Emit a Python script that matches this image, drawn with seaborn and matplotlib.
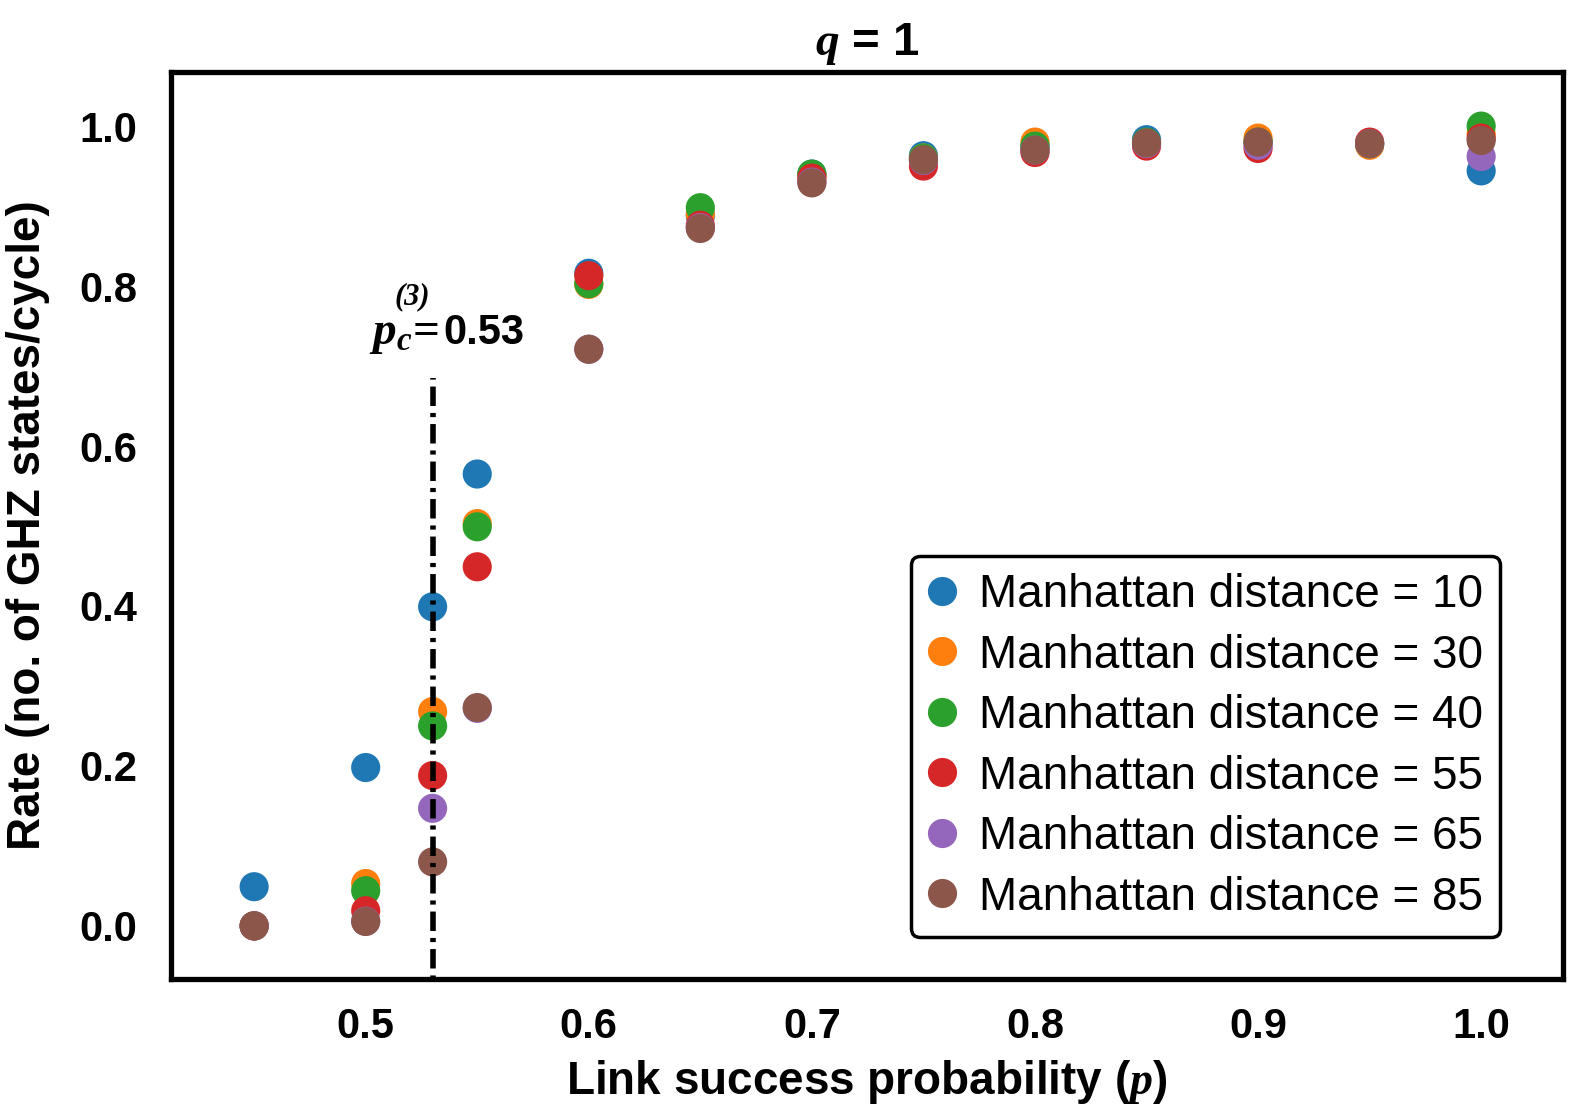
import matplotlib
matplotlib.use("Agg")
import matplotlib.pyplot as plt
import seaborn as sns
import pandas as pd
import numpy as np

# ---- data ----
p_values = [0.45, 0.5, 0.53, 0.55, 0.6, 0.65, 0.7, 0.75, 0.8, 0.85, 0.9, 0.95, 1.0]
distances = [10, 30, 40, 55, 65, 85]
rate_d10 = [0.049, 0.198, 0.399, 0.565, 0.816, 0.888, 0.940, 0.963, 0.975, 0.983, 0.980, 0.978, 0.944]
rate_d30 = [0.000, 0.053, 0.268, 0.503, 0.802, 0.890, 0.937, 0.960, 0.980, 0.978, 0.985, 0.976, 0.990]
rate_d40 = [0.000, 0.044, 0.250, 0.499, 0.803, 0.898, 0.940, 0.960, 0.975, 0.980, 0.980, 0.978, 1.000]
rate_d55 = [0.000, 0.019, 0.188, 0.449, 0.813, 0.876, 0.935, 0.950, 0.967, 0.975, 0.972, 0.980, 0.985]
rate_d65 = [0.000, 0.006, 0.147, 0.272, 0.721, 0.873, 0.930, 0.957, 0.970, 0.978, 0.976, 0.978, 0.962]
rate_d85 = [0.000, 0.0055, 0.080, 0.273, 0.721, 0.872, 0.929, 0.958, 0.970, 0.979, 0.980, 0.978, 0.982]
p_critical = 0.53
x_ticks = [0.5, 0.6, 0.7, 0.8, 0.9, 1.0]
y_ticks = [0.0, 0.2, 0.4, 0.6, 0.8, 1.0]

series = [rate_d10, rate_d30, rate_d40, rate_d55, rate_d65, rate_d85]
labels = [f"Manhattan distance = {d}" for d in distances]
df = pd.concat(
    [pd.DataFrame({"p": p_values, "rate": r, "series": lab}) for r, lab in zip(series, labels)],
    ignore_index=True,
)

# ---- style ----
sns.set_theme(style="white")
plt.rcParams["font.family"] = ["Liberation Sans", "DejaVu Sans"]
plt.rcParams["font.weight"] = "bold"
plt.rcParams["text.color"] = "black"
plt.rcParams["axes.labelcolor"] = "black"
plt.rcParams["xtick.color"] = "black"
plt.rcParams["ytick.color"] = "black"
plt.rcParams["legend.labelcolor"] = "black"
plt.rcParams["mathtext.fontset"] = "custom"
plt.rcParams["mathtext.it"] = "Liberation Serif:italic:bold"
plt.rcParams["mathtext.rm"] = "Liberation Serif:bold"
plt.rcParams["mathtext.bf"] = "Liberation Serif:bold"

palette = sns.color_palette("tab10", 6)

fig = plt.figure(figsize=(15.69, 11.12), dpi=100)
ax = fig.add_axes([0.1088, 0.1196, 0.8874, 0.8157])

sns.scatterplot(data=df, x="p", y="rate", hue="series", hue_order=labels,
                palette=palette, s=440, edgecolor="none", linewidth=0, ax=ax, legend=True)

# critical probability line
ax.vlines(p_critical, -0.1, 0.685, colors="black", linewidth=4, linestyles=(0, (3.5, 1.25, 0.75, 1.25)))
ax.annotate(r"$p_c\!=$", xy=(p_critical, 0.728), xytext=(4.5, 0),
            textcoords="offset points", ha="right", va="baseline", fontsize=34, color="black")
ax.annotate("(3)", xy=(p_critical, 0.728), xytext=(-14.5, 34),
            textcoords="offset points", ha="center", va="center", fontsize=22,
            family="Liberation Serif", style="italic", fontweight="bold", color="black")
ax.annotate("0.53", xy=(p_critical, 0.728), xytext=(8, 0),
            textcoords="offset points", ha="left", va="baseline", fontsize=30,
            fontweight="bold", color="black")

ax.set_xlim(0.4126, 1.0367)
ax.set_ylim(-0.0664, 1.0677)
ax.set_xticks(x_ticks)
ax.set_yticks(y_ticks)
ax.set_xticklabels([f"{v:.1f}" for v in x_ticks])
ax.set_yticklabels([f"{v:.1f}" for v in y_ticks])
ax.tick_params(axis="both", direction="in", length=10, width=3, labelsize=30,
               colors="black", labelcolor="black")
ax.tick_params(axis="y", pad=24)
ax.tick_params(axis="x", pad=20)
for lab in ax.get_xticklabels() + ax.get_yticklabels():
    lab.set_fontweight("bold")
for sp in ax.spines.values():
    sp.set_visible(True)
    sp.set_linewidth(3.8)
    sp.set_color("black")

ax.set_xlabel(r"Link success probability ($p$)", fontsize=33, fontweight="bold",
              labelpad=8, color="black")
ax.set_ylabel("Rate (no. of GHZ states/cycle)", fontsize=33, fontweight="bold",
              labelpad=21, color="black")
ax.set_title(r"$q$ = 1", fontsize=34, fontweight="bold", pad=12, color="black")

handles, leg_labels = ax.get_legend_handles_labels()
for h in handles:
    try:
        h.set_markersize(21)
    except Exception:
        pass
leg = ax.legend(handles, leg_labels, loc="lower right", bbox_to_anchor=(0.9548, 0.0464),
                borderaxespad=0, frameon=True, fancybox=True, framealpha=1,
                edgecolor="black", labelspacing=0.36, handlelength=0.6, handletextpad=0.5,
                borderpad=0.38, prop={"size": 33, "weight": "normal"}, labelcolor="black")
leg.get_frame().set_linewidth(2.5)

fig.savefig("out.png", dpi=100)
